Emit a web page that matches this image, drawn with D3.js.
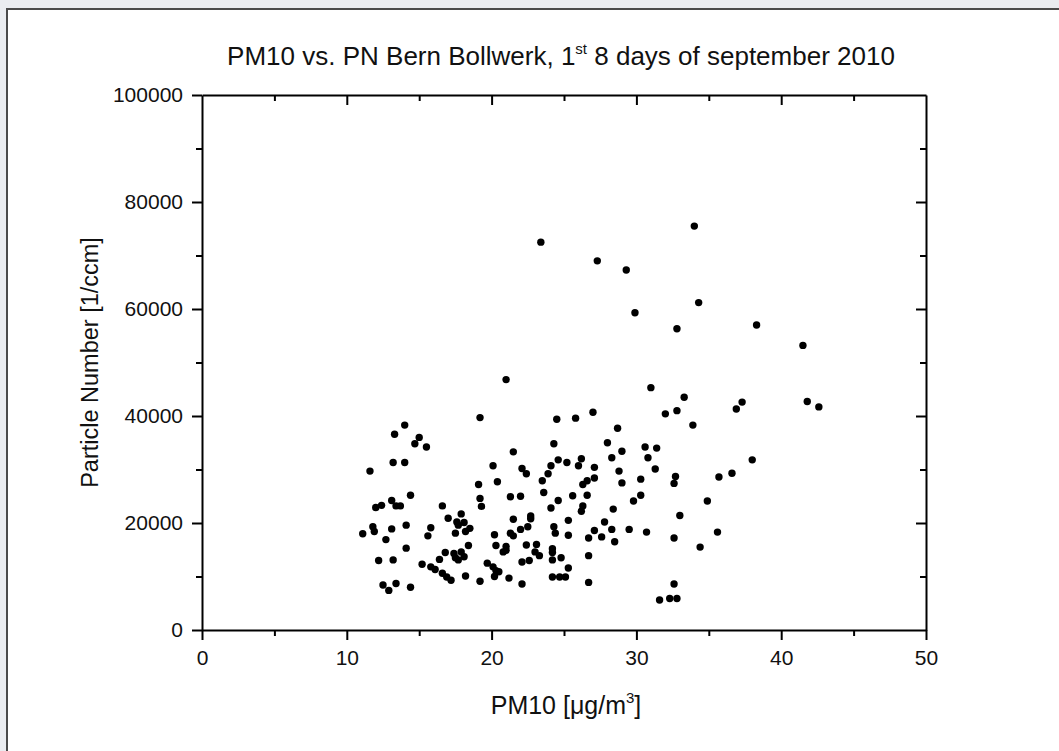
<!DOCTYPE html>
<html>
<head>
<meta charset="utf-8">
<script src="https://cdn.jsdelivr.net/npm/d3@7"></script>
<style>
  body { margin: 0; background: #eaecf0; }
  svg { display: block; }
  text { font-family: "Liberation Sans", Arial, sans-serif; fill: #111; }
</style>
</head>
<body>
<svg id="chart" width="1059" height="751"></svg>
<script>
// PM10 [ug/m3] and particle number [1/ccm]
const pm10 = [
  27.3, 29.3, 29.9, 34.3, 32.8, 38.3, 31.0, 34.0, 23.4, 21.0,
  14.0, 19.2, 24.5, 25.8, 27.0, 41.5, 36.9, 37.3, 41.8, 42.6,
  38.0, 36.6, 35.7, 34.9, 35.6, 34.4, 33.3, 32.0, 32.8, 33.9,
  28.7, 24.3, 28.0, 29.0, 30.6, 31.4, 24.6, 25.2, 26.2, 24.1,
  26.0, 28.3, 30.8, 27.1, 22.1, 22.4, 23.9, 23.5, 28.8, 31.3,
  27.1, 26.6, 26.3, 29.0, 30.3, 32.7, 32.6, 23.6, 25.6, 26.6,
  30.3, 29.8, 22.0, 24.6, 24.1, 26.3, 26.2, 28.4, 22.7, 22.7,
  22.5, 25.3, 24.3, 24.4, 25.3, 27.8, 27.1, 28.3, 27.6, 26.7,
  28.5, 29.5, 30.7, 33.0, 32.6, 22.0, 22.4, 23.1, 23.0, 23.3,
  22.1, 22.6, 24.2, 24.2, 24.2, 24.8, 25.3, 26.7, 24.2, 24.7,
  25.1, 26.7, 22.1, 32.6, 31.6, 32.3, 32.8, 13.3, 15.0, 14.7,
  15.5, 21.5, 20.1, 13.2, 14.0, 11.6, 20.4, 19.1, 14.4, 19.2,
  21.3, 19.3, 12.0, 12.4, 13.1, 13.4, 13.7, 16.6, 17.9, 17.0,
  17.6, 18.1, 17.7, 18.5, 18.2, 17.5, 11.8, 11.9, 13.1, 14.1,
  11.1, 15.8, 15.6, 12.7, 21.5, 21.3, 21.5, 20.2, 20.3, 21.0,
  21.0, 20.8, 14.1, 18.4, 12.2, 13.2, 15.2, 16.8, 16.4, 17.4,
  17.5, 17.9, 18.1, 17.7, 15.8, 16.1, 16.6, 16.9, 17.2, 18.2,
  19.2, 19.7, 20.1, 20.3, 20.2, 20.5, 21.2, 12.5, 12.9, 13.4,
  14.4
];
const particleNumber = [
  69000, 67300, 59300, 61200, 56300, 57000, 45300, 75500, 72500, 46800,
  38300, 39700, 39400, 39600, 40700, 53200, 41300, 42600, 42700, 41700,
  31800, 29300, 28600, 24100, 18300, 15500, 43500, 40400, 41000, 38300,
  37700, 34800, 35000, 33400, 34200, 34000, 31800, 31300, 32000, 30700,
  30700, 32200, 32200, 30400, 30200, 29200, 29200, 27900, 29700, 30100,
  28400, 27900, 27200, 27500, 28200, 28700, 27400, 25700, 25100, 25200,
  25200, 24100, 25000, 24200, 22800, 23200, 22200, 22600, 21300, 20800,
  19300, 20500, 19300, 18100, 17700, 20200, 18600, 18800, 17400, 17200,
  16500, 18800, 18300, 21400, 17200, 18800, 15900, 16000, 14600, 13900,
  12700, 13000, 15200, 14500, 13100, 13500, 11600, 13900, 9900, 9900,
  9900, 8900, 8600, 8600, 5600, 5900, 5900, 36600, 36000, 34800,
  34200, 33300, 30700, 31300, 31300, 29700, 27700, 27200, 25200, 24600,
  24900, 23100, 22900, 23300, 24200, 23200, 23200, 23200, 21700, 20900,
  20200, 20100, 19600, 19000, 18400, 18100, 19300, 18400, 18900, 19600,
  18000, 19100, 17600, 16900, 20700, 18100, 17600, 17800, 15800, 15600,
  14900, 14600, 15300, 15800, 13000, 13100, 12300, 14500, 13200, 14300,
  13500, 14600, 13700, 13100, 11800, 11300, 10600, 9900, 9300, 10100,
  9100, 12500, 11800, 11100, 10000, 10900, 9700, 8400, 7400, 8700,
  8000
];

const xTicks = [0, 10, 20, 30, 40, 50];
const xMinor = [5, 15, 25, 35, 45];
const yTicks = [0, 20000, 40000, 60000, 80000, 100000];
const yMinor = [10000, 30000, 50000, 70000, 90000];

const svg = d3.select("#chart");

// white page panel with dark frame
svg.append("rect")
  .attr("x", 7).attr("y", 9)
  .attr("width", 1070).attr("height", 780)
  .attr("fill", "#fff")
  .attr("stroke", "#4a4a4a")
  .attr("stroke-width", 2);

const plotLeft = 202, plotRight = 926, plotTop = 95, plotBottom = 630;

const x = d3.scaleLinear().domain([0, 50]).range([plotLeft, plotRight]);
const y = d3.scaleLinear().domain([0, 100000]).range([plotBottom, plotTop]);

function styleAxis(g) {
  g.selectAll("path.domain").attr("stroke", "#000").attr("stroke-width", 2);
  g.selectAll(".tick line").attr("stroke", "#000").attr("stroke-width", 2);
  g.selectAll(".tick text")
    .attr("fill", "#111")
    .style("font-size", "21px")
    .style("font-family", "'Liberation Sans', Arial, sans-serif");
}

// bottom axis (outward ticks, labels)
svg.append("g")
  .attr("transform", `translate(0,${plotBottom})`)
  .call(d3.axisBottom(x).tickValues(xTicks).tickSize(10).tickPadding(10).tickSizeOuter(0))
  .call(styleAxis);
svg.append("g")
  .attr("transform", `translate(0,${plotBottom})`)
  .call(d3.axisBottom(x).tickValues(xMinor).tickSize(6).tickFormat(""))
  .call(g => g.select(".domain").remove())
  .call(styleAxis);

// left axis (outward ticks, labels)
svg.append("g")
  .attr("transform", `translate(${plotLeft},0)`)
  .call(d3.axisLeft(y).tickValues(yTicks).tickSize(10).tickPadding(9).tickSizeOuter(0).tickFormat(d3.format("d")))
  .call(styleAxis);
svg.append("g")
  .attr("transform", `translate(${plotLeft},0)`)
  .call(d3.axisLeft(y).tickValues(yMinor).tickSize(6).tickFormat(""))
  .call(g => g.select(".domain").remove())
  .call(styleAxis);

// top axis, ticks pointing inside
svg.append("g")
  .attr("transform", `translate(0,${plotTop})`)
  .call(d3.axisBottom(x).tickValues(xTicks.slice(1, -1)).tickSize(10).tickSizeOuter(0).tickFormat(""))
  .call(styleAxis);
svg.append("g")
  .attr("transform", `translate(0,${plotTop})`)
  .call(d3.axisBottom(x).tickValues(xMinor).tickSize(6).tickFormat(""))
  .call(g => g.select(".domain").remove())
  .call(styleAxis);

// right axis, ticks pointing inside
svg.append("g")
  .attr("transform", `translate(${plotRight},0)`)
  .call(d3.axisLeft(y).tickValues(yTicks.slice(1, -1)).tickSize(10).tickSizeOuter(0).tickFormat(""))
  .call(styleAxis);
svg.append("g")
  .attr("transform", `translate(${plotRight},0)`)
  .call(d3.axisLeft(y).tickValues(yMinor).tickSize(6).tickFormat(""))
  .call(g => g.select(".domain").remove())
  .call(styleAxis);

// scatter points
const points = pm10.map((v, i) => ({ pm: v, pn: particleNumber[i] }));
svg.append("g")
  .selectAll("circle")
  .data(points)
  .enter()
  .append("circle")
  .attr("cx", d => x(d.pm))
  .attr("cy", d => y(d.pn))
  .attr("r", 3.7)
  .attr("fill", "#000");

// title
const title = svg.append("text")
  .attr("x", 561)
  .attr("y", 65)
  .attr("text-anchor", "middle")
  .style("font-size", "26px");
title.append("tspan").text("PM10 vs. PN Bern Bollwerk, 1");
title.append("tspan").attr("dy", -11).style("font-size", "15px").text("st");
title.append("tspan").attr("dy", 11).text(" 8 days of september 2010");

// x axis label
const xl = svg.append("text")
  .attr("x", 566)
  .attr("y", 714)
  .attr("text-anchor", "middle")
  .style("font-size", "25px");
xl.append("tspan").text("PM10 [\u03bcg/m");
xl.append("tspan").attr("dy", -11).style("font-size", "15px").text("3");
xl.append("tspan").attr("dy", 11).text("]");

// y axis label
svg.append("text")
  .attr("transform", `translate(98,${(plotTop + plotBottom) / 2}) rotate(-90)`)
  .attr("text-anchor", "middle")
  .style("font-size", "23.5px")
  .text("Particle Number [1/ccm]");
</script>
</body>
</html>
